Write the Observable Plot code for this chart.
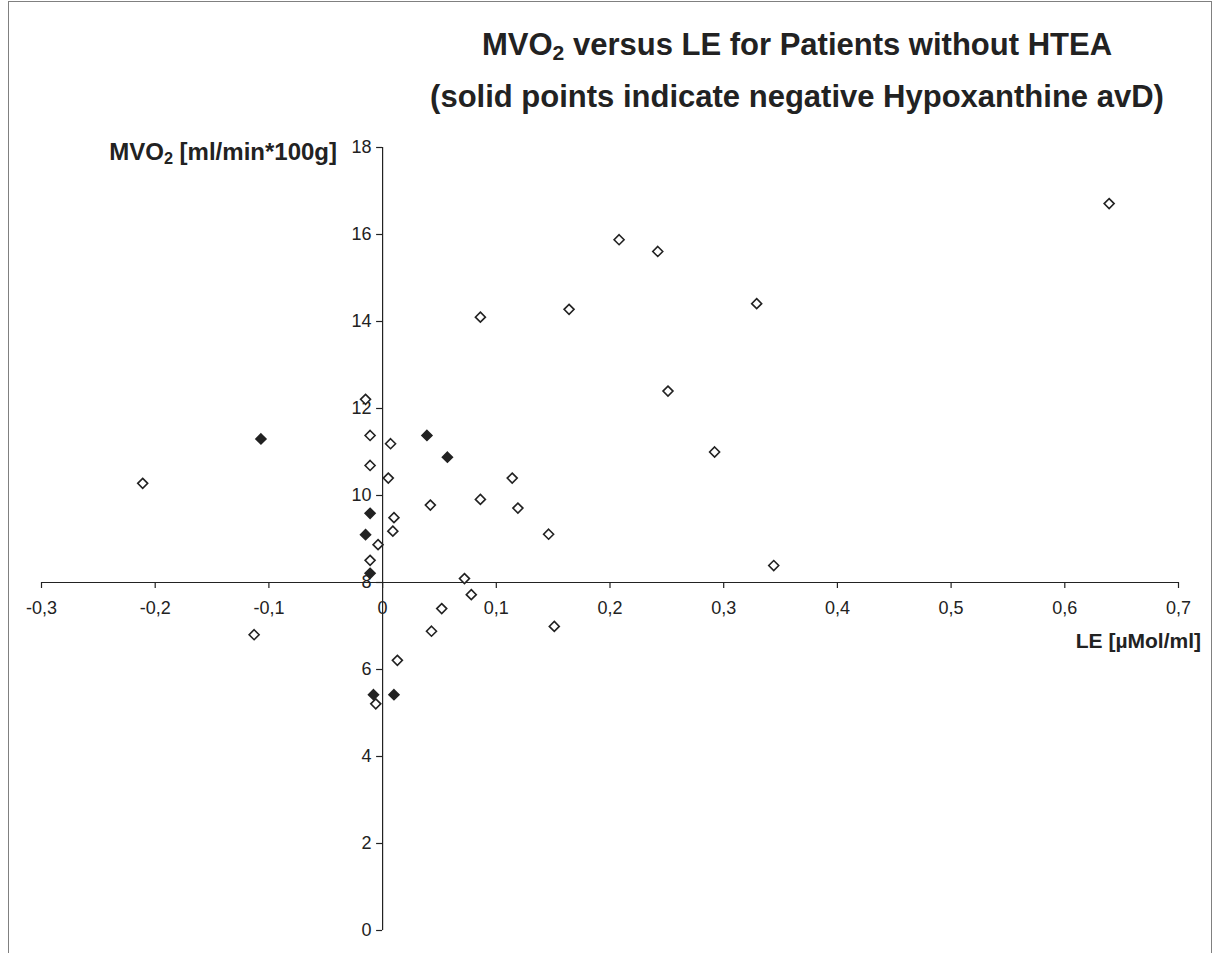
<!DOCTYPE html>
<html>
<head>
<meta charset="utf-8">
<script src="https://cdn.jsdelivr.net/npm/d3@7"></script>
<script src="https://cdn.jsdelivr.net/npm/@observablehq/plot@0.6"></script>
<style>
  html, body { margin: 0; padding: 0; background: #fff; }
  #wrap { position: relative; width: 1214px; height: 953px; overflow: hidden; font-family: "Liberation Sans", Arial, sans-serif; color: #222; }
  #frame { position: absolute; left: 8px; top: 1px; width: 1204px; height: 1000px; border: 1px solid #808080; box-sizing: border-box; }
  #chart { position: absolute; left: 0; top: 0; }
  .t { position: absolute; font-weight: bold; white-space: nowrap; }
  .t sub { font-size: 0.68em; vertical-align: -0.25em; line-height: 0; }
</style>
</head>
<body>
<div id="wrap">
  <div id="frame"></div>
  <div id="chart"></div>
  <div class="t" style="left:297px;width:1000px;text-align:center;top:27px;font-size:31px;line-height:36px;">MVO<sub>2</sub> versus LE for Patients without HTEA</div>
  <div class="t" style="left:297px;width:1000px;text-align:center;top:79px;font-size:31px;line-height:36px;">(solid points indicate negative Hypoxanthine avD)</div>
  <div class="t" style="left:0;width:337px;text-align:right;top:137px;font-size:24px;line-height:30px;">MVO<sub>2</sub> [ml/min*100g]</div>
  <div class="t" style="left:0;width:1201px;text-align:right;top:627px;font-size:21px;line-height:28px;">LE [µMol/ml]</div>
</div>
<script>
// Open points (positive Hypoxanthine avD)
const leOpen  = [-0.211, -0.113, -0.015, -0.011, 0.007, -0.011, 0.005, 0.042, 0.010, 0.009, -0.004, -0.011, 0.072, 0.078, 0.052, 0.043, 0.013, -0.006, 0.086, 0.164, 0.114, 0.086, 0.119, 0.146, 0.151, 0.208, 0.242, 0.329, 0.251, 0.292, 0.344, 0.639];
const mvoOpen = [10.28, 6.80, 12.21, 11.38, 11.19, 10.69, 10.40, 9.78, 9.49, 9.18, 8.87, 8.51, 8.09, 7.72, 7.40, 6.88, 6.21, 5.21, 14.10, 14.28, 10.40, 9.91, 9.71, 9.11, 6.99, 15.88, 15.61, 14.41, 12.40, 11.00, 8.39, 16.71];
// Solid points (negative Hypoxanthine avD)
const leSolid  = [-0.107, 0.039, 0.057, -0.011, -0.015, -0.011, -0.008, 0.010];
const mvoSolid = [11.30, 11.38, 10.88, 9.59, 9.10, 8.21, 5.42, 5.42];

const xTicks = [-0.3, -0.2, -0.1, 0, 0.1, 0.2, 0.3, 0.4, 0.5, 0.6, 0.7];
const yTicks = [0, 2, 4, 6, 8, 10, 12, 14, 16, 18];
const xCross = 8;   // x axis crosses at MVO2 = 8
const yCross = 0;   // y axis crosses at LE = 0

const openData = leOpen.map((v, i) => ({le: v, mvo: mvoOpen[i]}));
const solidData = leSolid.map((v, i) => ({le: v, mvo: mvoSolid[i]}));
const fmtX = d => d === 0 ? "0" : d3.format(".1f")(d).replace(".", ",").replace("−", "-");

const ink = "#222";
const plot = Plot.plot({
  width: 1214,
  height: 953,
  marginLeft: 41,
  marginRight: 36,
  marginTop: 147,
  marginBottom: 23,
  x: {domain: [-0.3, 0.7], axis: null},
  y: {domain: [0, 18], axis: null},
  style: {fontFamily: "'Liberation Sans', Arial, sans-serif", fontSize: "18px", color: ink, background: "transparent"},
  marks: [
    Plot.ruleY([xCross], {stroke: ink, strokeWidth: 1.2}),
    Plot.ruleX([yCross], {y1: 0, y2: 18, stroke: ink, strokeWidth: 1.2}),
    Plot.ruleX(xTicks, {x: d => d, y1: xCross, y2: xCross, insetBottom: -6, stroke: ink, strokeWidth: 1.2}),
    Plot.ruleY(yTicks, {y: d => d, x1: yCross, x2: yCross, insetLeft: -6, stroke: ink, strokeWidth: 1.2}),
    Plot.text(xTicks, {x: d => d, y: xCross, dy: 26, text: fmtX, fill: ink, fontSize: 18}),
    Plot.text(yTicks, {x: yCross, y: d => d, dx: -11, textAnchor: "end", text: d => String(d), fill: ink, fontSize: 18}),
    Plot.dot(openData, {x: "le", y: "mvo", symbol: "diamond2", r: 4.5, fill: "white", stroke: ink, strokeWidth: 1.6}),
    Plot.dot(solidData, {x: "le", y: "mvo", symbol: "diamond2", r: 4.5, fill: ink, stroke: ink, strokeWidth: 1.6})
  ]
});
document.getElementById("chart").appendChild(plot);
</script>
</body>
</html>
